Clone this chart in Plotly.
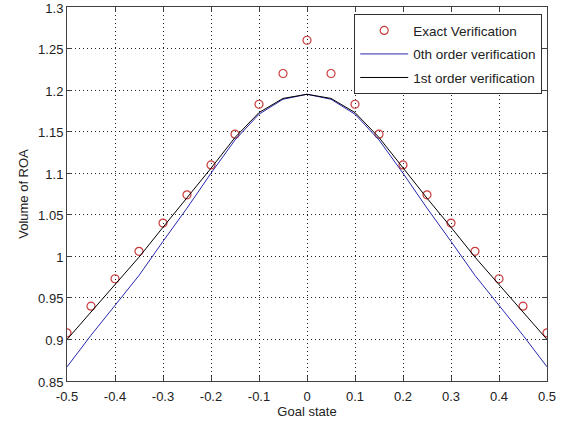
import plotly.graph_objects as go

x_exact = [-0.5, -0.45, -0.4, -0.35, -0.3, -0.25, -0.2, -0.15, -0.1, -0.05, 0.0,
           0.05, 0.1, 0.15, 0.2, 0.25, 0.3, 0.35, 0.4, 0.45, 0.5]
y_exact = [0.908, 0.940, 0.973, 1.006, 1.040, 1.074, 1.110, 1.147, 1.183, 1.220, 1.260,
           1.220, 1.183, 1.147, 1.110, 1.074, 1.040, 1.006, 0.973, 0.940, 0.908]

x_line = x_exact
y_zeroth = [0.867, 0.905, 0.941, 0.977, 1.018, 1.058, 1.100, 1.140, 1.171, 1.189, 1.195,
            1.189, 1.171, 1.140, 1.100, 1.058, 1.018, 0.977, 0.941, 0.905, 0.867]
y_first = [0.900, 0.933, 0.966, 0.999, 1.035, 1.070, 1.106, 1.143, 1.173, 1.190, 1.195,
           1.190, 1.173, 1.143, 1.106, 1.070, 1.035, 0.999, 0.966, 0.933, 0.900]

x_ticks = [-0.5, -0.4, -0.3, -0.2, -0.1, 0, 0.1, 0.2, 0.3, 0.4, 0.5]
x_tick_labels = ["-0.5", "-0.4", "-0.3", "-0.2", "-0.1", "0", "0.1", "0.2", "0.3", "0.4", "0.5"]
y_ticks = [0.85, 0.9, 0.95, 1.0, 1.05, 1.1, 1.15, 1.2, 1.25, 1.3]
y_tick_labels = ["0.85", "0.9", "0.95", "1", "1.05", "1.1", "1.15", "1.2", "1.25", "1.3"]

FONT = "Liberation Sans, Arial, sans-serif"

fig = go.Figure()
fig.add_trace(go.Scatter(x=x_exact, y=y_exact, mode="markers", name="Exact Verification",
                         legendgroup="a",
                         marker=dict(symbol="circle-open", size=8, color="#c83c3c",
                                     line=dict(width=1.2, color="#c83c3c"))))
fig.add_trace(go.Scatter(x=x_line, y=y_zeroth, mode="lines", name="0th order verification",
                         legendgroup="b",
                         line=dict(color="#2828b0", width=1)))
fig.add_trace(go.Scatter(x=x_line, y=y_first, mode="lines", name="1st order verification",
                         legendgroup="c",
                         line=dict(color="#000000", width=1)))

axis_common = dict(showline=True, linecolor="#404040", linewidth=1, mirror="ticks",
                   ticks="inside", ticklen=5, tickcolor="#404040",
                   showgrid=True, gridcolor="#202020", griddash="1px,3px", gridwidth=1,
                   zeroline=False, ticklabeloverflow="allow", automargin=False,
                   tickfont=dict(family=FONT, size=13, color="#222"))

fig.update_layout(
    width=564, height=425,
    paper_bgcolor="white", plot_bgcolor="white",
    margin=dict(l=67, r=17, t=7, b=44),
    font=dict(family=FONT, size=12, color="#222"),
    xaxis=dict(range=[-0.5, 0.5], tickvals=x_ticks, ticktext=x_tick_labels, ticklabelstandoff=3,
               title=dict(text="Goal state", font=dict(size=13), standoff=2), **axis_common),
    yaxis=dict(range=[0.85, 1.3], tickvals=y_ticks, ticktext=y_tick_labels, ticklabelshift=1,
               title=dict(text="Volume of ROA", font=dict(size=13), standoff=6), **axis_common),
    legend=dict(x=0.99, y=0.981, xanchor="right", yanchor="top",
                bgcolor="white", bordercolor="#303030", borderwidth=1,
                font=dict(size=13.5), tracegroupgap=3, itemwidth=48),
    showlegend=True,
)

fig.write_html("out.html", config={"displayModeBar": False},
               post_script="document.body.style.margin='0';")
